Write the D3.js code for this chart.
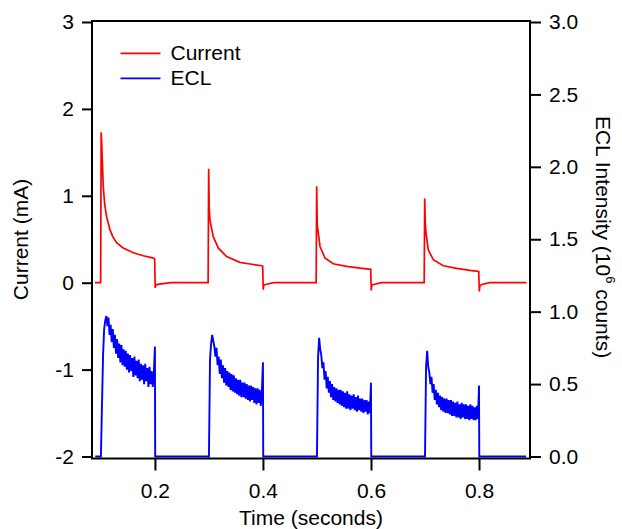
<!DOCTYPE html>
<html>
<head>
<meta charset="utf-8">
<script src="https://cdn.jsdelivr.net/npm/d3@7"></script>
<style>
body { margin: 0; background: #fff; }
text { font-family: "Liberation Sans", Arial, sans-serif; }
</style>
</head>
<body>
<div id="chart"></div>
<script>
// axis ticks
var xTicks = [0.2, 0.4, 0.6, 0.8];
var leftTicks = [-2, -1, 0, 1, 2, 3];
var rightTicks = [0, 0.5, 1.0, 1.5, 2.0, 2.5, 3.0];

// current (mA), [time s, value]
var current1 = [[0.089,0],[0.0995,0],[0.1005,1.73],[0.1015,1.60],[0.1025,1.42],[0.1043,1.11],[0.107,0.90],
  [0.1105,0.76],[0.1167,0.61],[0.122,0.53],[0.129,0.46],[0.1413,0.40],[0.16,0.345],[0.1784,0.31],
  [0.1957,0.285],[0.1995,0.275],[0.2005,-0.06],[0.2015,-0.03],[0.205,-0.02],[0.215,-0.01],[0.23,0],[0.2985,0]];
var current2 = [[0.2995,1.31],[0.3005,0.85],[0.3019,0.72],[0.308,0.53],[0.3172,0.40],[0.3327,0.30],
  [0.3574,0.234],[0.3759,0.215],[0.3975,0.195],[0.3995,0.19],[0.4005,-0.08],[0.4015,-0.03],[0.405,-0.02],
  [0.42,0],[0.4985,0]];
var current3 = [[0.4995,1.11],[0.5005,0.66],[0.5025,0.571],[0.5056,0.417],[0.5148,0.284],[0.53,0.218],
  [0.555,0.187],[0.5796,0.168],[0.5969,0.157],[0.5995,0.155],[0.6005,-0.09],[0.6015,-0.03],[0.605,-0.02],
  [0.62,0],[0.6985,0]];
var current4 = [[0.6995,0.97],[0.7005,0.68],[0.7019,0.571],[0.7061,0.379],[0.7154,0.264],[0.7339,0.195],
  [0.7586,0.164],[0.7833,0.141],[0.7987,0.13],[0.7995,0.128],[0.8005,-0.10],[0.8015,-0.04],[0.805,-0.02],
  [0.82,0],[0.888,0]];

// ECL (10^6 counts), sampled every 2 ms from each pulse start
var eclStarts = [0.1, 0.3, 0.5, 0.7];
var eclStep = 0.002;
var ecl1 = [0.00,0.36,0.70,0.88,0.94,0.97,0.90,0.96,0.84,0.91,0.79,0.88,0.75,0.84,0.71,0.81,0.68,0.78,0.65,0.77,
  0.63,0.74,0.62,0.73,0.60,0.71,0.58,0.70,0.59,0.68,0.55,0.69,0.56,0.66,0.54,0.67,0.52,0.64,0.53,0.63,
  0.50,0.64,0.52,0.61,0.48,0.62,0.50,0.59,0.48,0.58,0.76];
var ecl2 = [0.00,0.67,0.78,0.84,0.80,0.76,0.69,0.75,0.63,0.69,0.57,0.67,0.54,0.63,0.51,0.61,0.49,0.59,0.48,0.58,
  0.46,0.57,0.45,0.56,0.44,0.54,0.43,0.53,0.42,0.53,0.41,0.51,0.41,0.51,0.40,0.50,0.39,0.49,0.38,0.49,
  0.39,0.48,0.37,0.47,0.36,0.47,0.37,0.46,0.35,0.45,0.65];
var ecl3 = [0.00,0.68,0.82,0.74,0.70,0.61,0.65,0.53,0.59,0.47,0.55,0.44,0.52,0.41,0.50,0.39,0.48,0.38,0.47,0.37,
  0.46,0.36,0.46,0.35,0.45,0.34,0.44,0.33,0.45,0.33,0.43,0.32,0.42,0.33,0.43,0.32,0.41,0.31,0.42,0.32,
  0.40,0.31,0.40,0.30,0.39,0.31,0.39,0.29,0.38,0.30,0.51];
var ecl4 = [0.00,0.62,0.73,0.62,0.58,0.50,0.55,0.44,0.50,0.39,0.46,0.36,0.44,0.34,0.42,0.32,0.41,0.31,0.40,0.30,
  0.40,0.30,0.39,0.29,0.39,0.28,0.38,0.28,0.37,0.27,0.38,0.27,0.36,0.26,0.37,0.27,0.36,0.26,0.36,0.26,
  0.35,0.25,0.36,0.26,0.35,0.25,0.34,0.25,0.35,0.26,0.49];
// times where ECL sits at zero between pulses
var eclOff = [[0.0895,0.0995],[0.2005,0.2995],[0.4005,0.4995],[0.6005,0.6995],[0.8005,0.887]];

var svgWidth = 622, svgHeight = 529;
var plotLeft = 92, plotRight = 530, plotTop = 21, plotBottom = 458.5;

var svg = d3.select('#chart').append('svg')
  .attr('width', svgWidth)
  .attr('height', svgHeight);

var x = d3.scaleLinear().domain([0.0835, 0.8944]).range([plotLeft, plotRight]);
var yL = d3.scaleLinear().domain([-2, 3]).range([456.5, 22]);
var yR = d3.scaleLinear().domain([0, 3]).range([456.5, 22]);

// build the ECL series from pulses and zero stretches
var eclPulses = [ecl1, ecl2, ecl3, ecl4];
var ecl = [];
eclPulses.forEach(function(p, i) {
  ecl.push([eclOff[i][0], 0], [eclOff[i][1], 0]);
  p.forEach(function(v, j) { ecl.push([eclStarts[i] + j * eclStep, v]); });
});
ecl.push([eclOff[4][0], 0], [eclOff[4][1], 0]);

var current = current1.concat(current2, current3, current4);

var lineL = d3.line().x(d => x(d[0])).y(d => yL(d[1]));
var lineR = d3.line().x(d => x(d[0])).y(d => yR(d[1]));

svg.append('path')
  .attr('d', lineR(ecl))
  .attr('fill', 'none')
  .attr('stroke', '#0000ff')
  .attr('stroke-width', 1.9);

svg.append('path')
  .attr('d', lineL(current))
  .attr('fill', 'none')
  .attr('stroke', '#ff0000')
  .attr('stroke-width', 1.7);

// frame
svg.append('rect')
  .attr('x', plotLeft).attr('y', plotTop)
  .attr('width', plotRight - plotLeft).attr('height', plotBottom - plotTop)
  .attr('fill', 'none').attr('stroke', '#000').attr('stroke-width', 2);

// axes
var gL = svg.append('g')
  .attr('transform', `translate(${plotLeft},0)`)
  .call(d3.axisLeft(yL).tickValues(leftTicks).tickSize(10).tickPadding(8).tickFormat(d => String(d)));
var gR = svg.append('g')
  .attr('transform', `translate(${plotRight},0)`)
  .call(d3.axisRight(yR).tickValues(rightTicks).tickSize(11).tickPadding(8).tickFormat(d3.format('.1f')));
var gB = svg.append('g')
  .attr('transform', `translate(0,${plotBottom})`)
  .call(d3.axisBottom(x).tickValues(xTicks).tickSize(12).tickPadding(13).tickFormat(d3.format('.1f')));

[gL, gR, gB].forEach(function(g) {
  g.select('.domain').remove();
  g.selectAll('line').attr('stroke-width', 2);
  g.selectAll('text').attr('font-size', 21).attr('fill', '#000')
    .style('font-family', '"Liberation Sans", Arial, sans-serif');
});

// axis titles
svg.append('text')
  .attr('transform', 'translate(28,239.5) rotate(-90)')
  .attr('text-anchor', 'middle')
  .attr('font-size', 21)
  .text('Current (mA)');

var rt = svg.append('text')
  .attr('transform', 'translate(596,237) rotate(90)')
  .attr('text-anchor', 'middle')
  .attr('font-size', 21);
rt.append('tspan').text('ECL Intensity (10');
rt.append('tspan').attr('font-size', 13).attr('dy', -10).text('6');
rt.append('tspan').attr('dy', 10).text(' counts)');

svg.append('text')
  .attr('x', (plotLeft + plotRight) / 2)
  .attr('y', 525)
  .attr('text-anchor', 'middle')
  .attr('font-size', 21)
  .text('Time (seconds)');

// legend
var legend = [
  {name: 'Current', color: '#ff0000', y: 53.3},
  {name: 'ECL', color: '#0000ff', y: 78.3}
];
var lg = svg.selectAll('g.legend').data(legend).enter().append('g').attr('class', 'legend');
lg.append('line')
  .attr('x1', 120.5).attr('x2', 160.5)
  .attr('y1', d => d.y).attr('y2', d => d.y)
  .attr('stroke', d => d.color).attr('stroke-width', 1.7);
lg.append('text')
  .attr('x', 170.5).attr('y', d => d.y + 7)
  .attr('font-size', 21)
  .text(d => d.name);
</script>
</body>
</html>
